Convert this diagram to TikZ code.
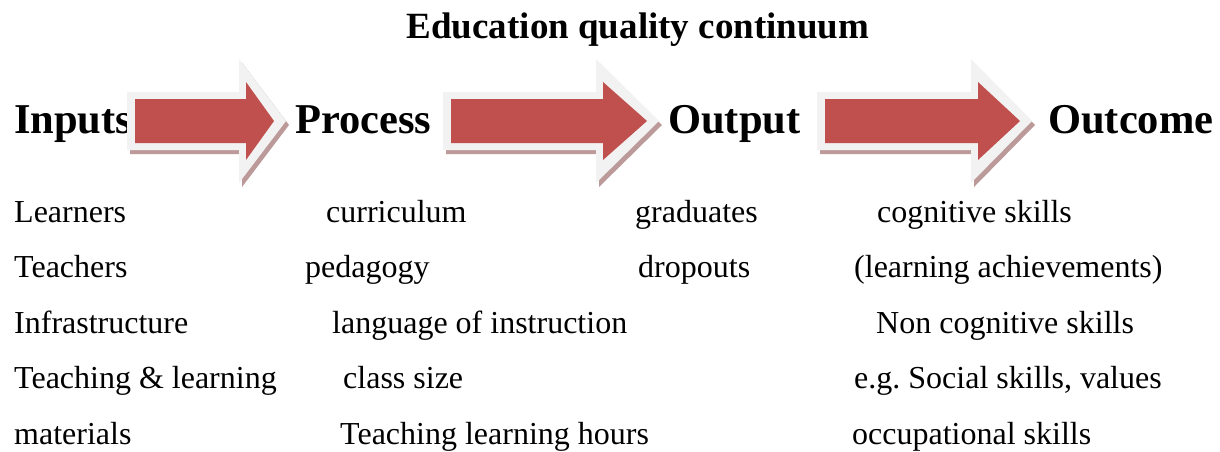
\documentclass[tikz,border=0pt]{standalone}
\usepackage{fontspec}
\setmainfont{Liberation Serif}
\definecolor{arrred}{HTML}{C0504D}
\definecolor{arrglow}{HTML}{F2F2F2}
\definecolor{arrshadow}{HTML}{BC9A9A}
\begin{document}
\frenchspacing
\begin{tikzpicture}[x=1pt,y=-1pt,
  body/.style={anchor=base west, inner sep=0pt, font=\fontsize{32}{38}\selectfont},
  headtxt/.style={anchor=base west, inner sep=0pt, font=\fontsize{42.5}{50}\selectfont\bfseries},
  titletxt/.style={anchor=base, inner sep=0pt, font=\fontsize{37}{44}\selectfont\bfseries}]
\useasboundingbox (0,0) rectangle (1220,451);
\fill[white] (0,0) rectangle (1220,451);
% title
\node[titletxt] (title) at (638,38) {Education quality continuum};
% headings
\node[headtxt] (inputs)  at (14,133)   {Inputs};
\node[headtxt] (process) at (295,133)  {Process};
\node[headtxt] (output)  at (668,133)  {Output};
\node[headtxt] (outcome) at (1048,133) {Outcome};
% arrows
\foreach \L/\N/\T in {135/246/274, 451/603/647, 825/978/1020}{
  \fill[arrshadow] ({\L-8+3},{121-29+4}) -- ({\N-7+3},{121-29+4}) -- ({\N-7+3},{121-62+4})
     -- ({\T+12+3},{121+4}) -- ({\N-7+3},{121+62+4}) -- ({\N-7+3},{121+29+4})
     -- ({\L-8+3},{121+29+4}) -- cycle;
  \fill[arrglow] ({\L-8},{121-29}) -- ({\N-7},{121-29}) -- ({\N-7},{121-62})
     -- ({\T+12},121) -- ({\N-7},{121+62}) -- ({\N-7},{121+29})
     -- ({\L-8},{121+29}) -- cycle;
  \fill[arrred] (\L,{121-22}) -- (\N,{121-22}) -- (\N,{121-39})
     -- (\T,121) -- (\N,{121+39}) -- (\N,{121+22})
     -- (\L,{121+22}) -- cycle;
}
% column 1
\node[body] (in1) at (14,222)   {Learners};
\node[body] (in2) at (14,277.5) {Teachers};
\node[body] (in3) at (14,333)   {Infrastructure};
\node[body] (in4) at (14,388.5) {Teaching \& learning};
\node[body] (in5) at (14,444)   {materials};
% column 2
\node[body] (pr1) at (326,222)   {curriculum};
\node[body] (pr2) at (305,277.5) {pedagogy};
\node[body] (pr3) at (332,333)   {language of instruction};
\node[body] (pr4) at (343,388.5) {class size};
\node[body] (pr5) at (340,444)   {Teaching learning hours};
% column 3
\node[body] (ou1) at (635,222)   {graduates};
\node[body] (ou2) at (638,277.5) {dropouts};
% column 4
\node[body] (oc1) at (877,222)   {cognitive skills};
\node[body] (oc2) at (854,277.5) {(learning achievements)};
\node[body] (oc3) at (876,333)   {Non cognitive skills};
\node[body] (oc4) at (854,388.5) {e.g.\ Social skills, values};
\node[body] (oc5) at (852,444)   {occupational skills};
\end{tikzpicture}
\end{document}
